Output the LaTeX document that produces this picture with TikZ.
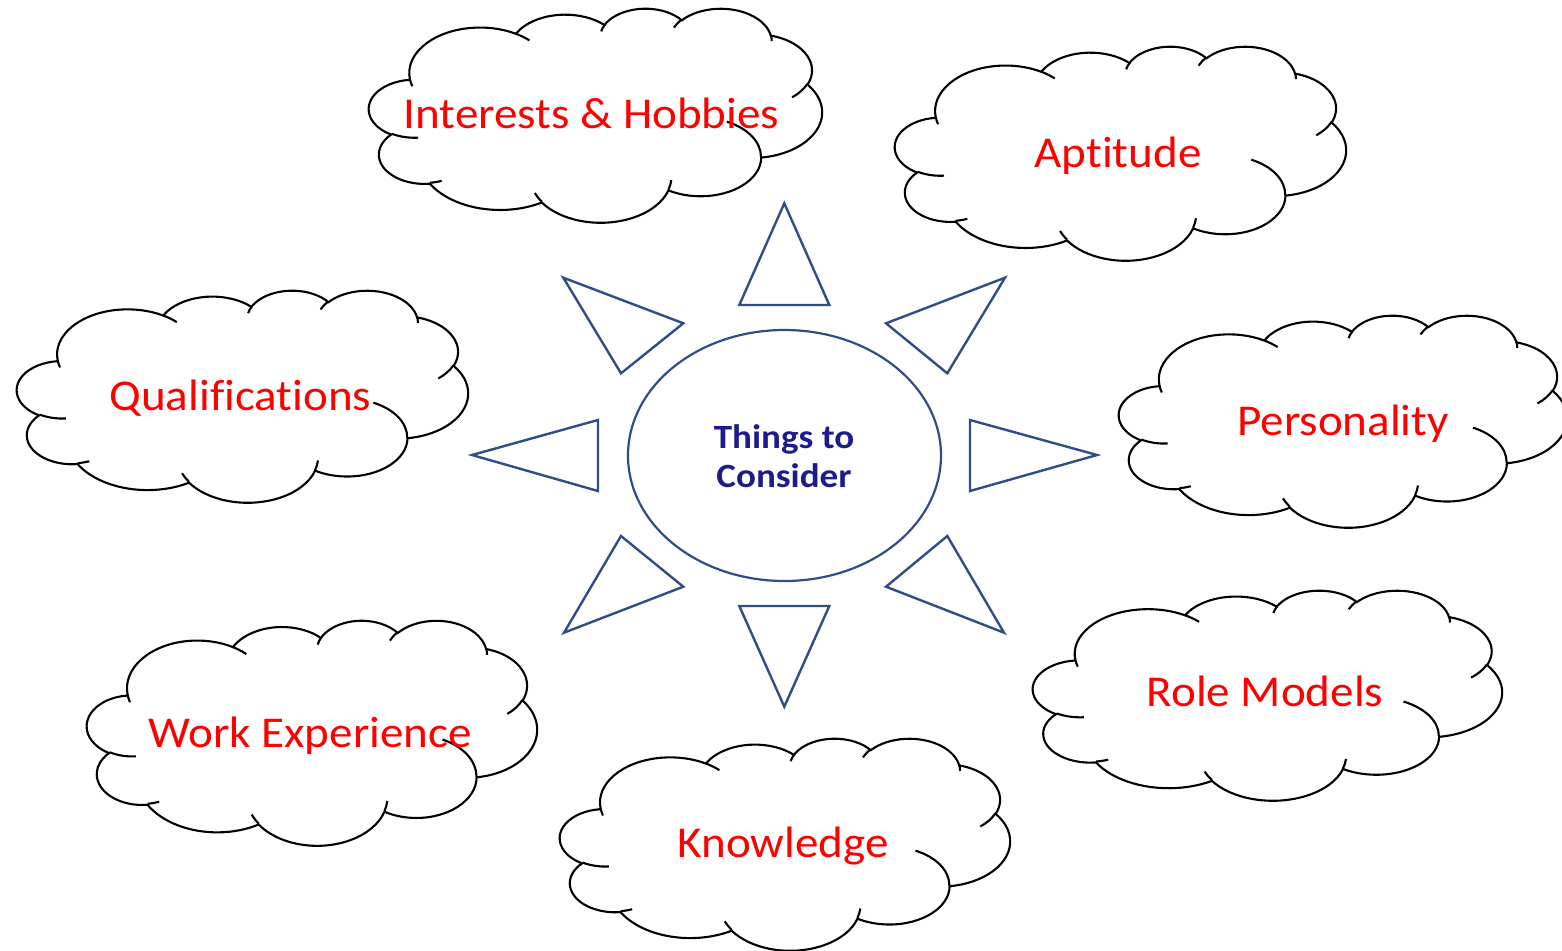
\documentclass[tikz,border=0pt]{standalone}
\usepackage{fontspec}
\setmainfont{Carlito}[Ligatures={NoCommon}]
\usetikzlibrary{shapes.geometric}
\definecolor{txtred}{RGB}{255,0,0}
\definecolor{txtnavy}{RGB}{28,28,140}
\definecolor{outl}{RGB}{47,77,135}
\tikzset{
  cloudline/.style={draw=black, line width=2.1pt},
  cloudtick/.style={draw=black, line width=2.1pt},
  tri/.style={draw=outl, line width=2.4pt, line join=miter, fill=white},
  cloudtext/.style={text=txtred, font=\fontsize{44}{50}\selectfont, anchor=base, inner sep=0pt, xscale=1.07},
  hubtext/.style={text=txtnavy, font=\bfseries\fontsize{34}{39}\selectfont, anchor=base, inner sep=0pt, xscale=1.09},
}
% Office-style cloud in a 432 x 432 box, scaled to (x0,y0,w,h)
\newcommand{\officecloud}[4]{%
 \begin{scope}[shift={(#1,#2)}, xscale=#3/432, yscale=#4/432]
  \draw[cloudline, fill=white] (39.00,143.70)
   arc[start angle=-187.745, delta angle=128.115, x radius=67.53, y radius=91.90]
   arc[start angle=-152.02, delta angle=106.58, x radius=53.33, y radius=72.67]
   arc[start angle=-153.49, delta angle=116.17, x radius=43.65, y radius=59.45]
   arc[start angle=-139.72, delta angle=129.51, x radius=48.57, y radius=65.95]
   arc[start angle=-74.77, delta angle=97.98, x radius=53.33, y radius=72.73]
   arc[start angle=-37.51, delta angle=119.37, x radius=67.75, y radius=92.20]
   arc[start angle=0.4596, delta angle=121.52, x radius=57.85, y radius=78.67]
   arc[start angle=16.84, delta angle=129.38, x radius=67.52, y radius=92.15]
   arc[start angle=58.98, delta angle=91.22, x radius=77.20, y radius=105.43]
   arc[start angle=-276.69, delta angle=139.81, x radius=43.60, y radius=59.18]
   arc[start angle=-239.64, delta angle=143.75, x radius=43.45, y radius=59.45]
   -- cycle;
  \draw[cloudtick] (46.93,261.77) arc[start angle=85.55, delta angle=34.81, x radius=43.45, y radius=59.45];
  \draw[cloudtick] (69.28,348.99) arc[start angle=68.24, delta angle=15.07, x radius=43.60, y radius=59.18];
  \draw[cloudtick] (164.78,390.90) arc[start angle=146.22, delta angle=12.25, x radius=67.52, y radius=92.15];
  \draw[cloudtick] (288.27,347.51) arc[start angle=4.738, delta angle=12.10, x radius=67.52, y radius=92.15];
  \draw[cloudtick] (341.29,229.54) arc[start angle=-64.03, delta angle=64.49, x radius=57.85, y radius=78.67];
  \draw[cloudtick] (417.98,153.54) arc[start angle=23.21, delta angle=26.43, x radius=53.33, y radius=72.73];
  \draw[cloudtick] (383.24,54.26) arc[start angle=-10.21, delta angle=11.03, x radius=48.57, y radius=65.95];
  \draw[cloudtick] (290.78,39.52) arc[start angle=-156.29, delta angle=16.57, x radius=48.57, y radius=65.95];
  \draw[cloudtick] (221.41,47.20) arc[start angle=-167.73, delta angle=14.24, x radius=43.65, y radius=59.45];
  \draw[cloudtick] (140.00,51.92) arc[start angle=-59.63, delta angle=13.91, x radius=67.53, y radius=91.90];
  \draw[cloudtick] (41.27,157.89) arc[start angle=163.19, delta angle=9.06, x radius=67.53, y radius=91.90];
 \end{scope}}
\begin{document}
\begin{tikzpicture}[x=1pt, y=1pt, yscale=-1]
\useasboundingbox[fill=white] (0,0) rectangle (1562,950);

% clouds
\officecloud{369}{8}{453}{214}
\officecloud{895}{46}{451}{214}
\officecloud{17}{290}{451}{212}
\officecloud{1119}{315}{448}{212}
\officecloud{1033}{590}{469}{210}
\officecloud{87}{620}{450}{225}
\officecloud{560}{738}{450}{212}

\node[cloudtext] (interests) at (591.5,128) {Interests \& Hobbies};
\node[cloudtext] (aptitude) at (1118,167) {Aptitude};
\node[cloudtext] (qualif) at (240.5,410) {Qualifications};
\node[cloudtext] (personality) at (1343,435) {Personality};
\node[cloudtext] (rolemodels) at (1265,706) {Role Models};
\node[cloudtext] (workexp) at (310,747) {Work Experience};
\node[cloudtext] (knowledge) at (783,857) {Knowledge};

% central ellipse
\node[draw=outl, line width=2.2pt, ellipse, minimum width=313pt, minimum height=251pt, inner sep=0pt] (hub) at (784.5,455.5) {};
\node[hubtext] (hubA) at (784,448) {Things to};
\node[hubtext] (hubB) at (784,487) {Consider};

% rays
\draw[tri] (784.3,203.3) -- (739.3,305) -- (829.3,305) -- cycle;
\draw[tri] (784.3,706.7) -- (739.3,606) -- (829.3,606) -- cycle;
\draw[tri] (472,455) -- (598,420) -- (598,491) -- cycle;
\draw[tri] (1097,455) -- (970,420) -- (970,491) -- cycle;
\draw[tri] (563.3,277.7) -- (683.3,323.3) -- (621,373.3) -- cycle;
\draw[tri] (1005,277.7) -- (886,323.3) -- (947.3,373.3) -- cycle;
\draw[tri] (564,632.7) -- (683.3,586.7) -- (621,536) -- cycle;
\draw[tri] (1004,632.7) -- (886,586.7) -- (947.3,536) -- cycle;
\end{tikzpicture}
\end{document}
